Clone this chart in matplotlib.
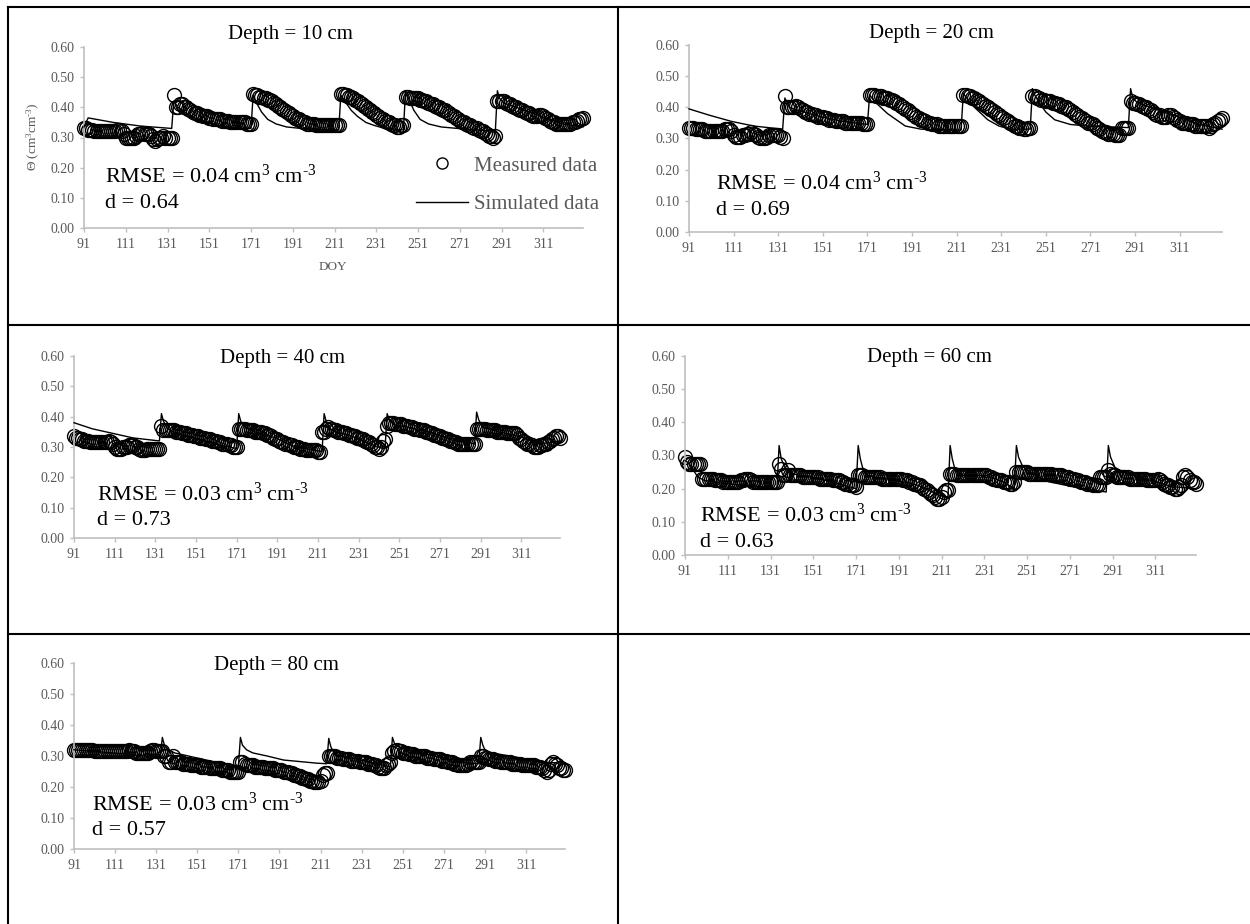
import matplotlib
matplotlib.use('Agg')
import matplotlib.pyplot as plt
from matplotlib.lines import Line2D

plt.rcParams['font.family'] = ['Liberation Serif', 'DejaVu Serif']
plt.rcParams['mathtext.fontset'] = 'custom'
plt.rcParams['mathtext.rm'] = 'Liberation Serif'
plt.rcParams['mathtext.it'] = 'Liberation Serif:italic'
plt.rcParams['mathtext.bf'] = 'Liberation Serif:bold'

# ---------------- data ----------------
doy = list(range(91, 331))
xticks = [91, 111, 131, 151, 171, 191, 211, 231, 251, 271, 291, 311]
yticks = [0.0, 0.1, 0.2, 0.3, 0.4, 0.5, 0.6]

titles = ["Depth = 10 cm", "Depth = 20 cm", "Depth = 40 cm", "Depth = 60 cm", "Depth = 80 cm"]
rmse = ["0.04", "0.04", "0.03", "0.03", "0.03"]
dval = ["0.64", "0.69", "0.73", "0.63", "0.57"]

meas10 = [
    .33, .33, .325, .325, .325, .32, .32, .32, .32, .32,
    .32, .32, .32, .32, .32, .32, .325, .325, .32, .31,
    .30, .30, .30, .30, .30, .305, .31, .31, .315, .31,
    .31, .31, .305, .295, .29, .295, .30, .30, .305, .30,
    .30, .30, .30, .44, .40, .40, .41, .41, .40, .40,
    .395, .39, .385, .38, .38, .375, .375, .37, .37, .37,
    .365, .365, .36, .36, .36, .36, .355, .355, .355, .355,
    .35, .35, .35, .35, .35, .35, .35, .35, .345, .345,
    .345, .445, .44, .44, .435, .435, .43, .43, .425, .425,
    .42, .415, .41, .405, .40, .395, .39, .385, .38, .375,
    .37, .365, .36, .36, .355, .35, .35, .345, .345, .345,
    .345, .34, .34, .34, .34, .34, .34, .34, .34, .34,
    .34, .34, .34, .445, .445, .44, .44, .435, .435, .43,
    .425, .42, .415, .41, .405, .40, .395, .39, .385, .38,
    .375, .37, .365, .36, .355, .35, .35, .345, .34, .34,
    .335, .335, .34, .34, .435, .435, .43, .43, .43, .43,
    .43, .425, .425, .42, .42, .415, .41, .41, .405, .40,
    .40, .395, .39, .39, .385, .38, .375, .37, .365, .36,
    .355, .35, .35, .345, .34, .34, .335, .33, .33, .325,
    .32, .32, .315, .31, .305, .305, .30, .305, .42, .42,
    .42, .42, .415, .41, .41, .405, .40, .40, .395, .39,
    .39, .385, .38, .38, .375, .37, .37, .37, .375, .375,
    .37, .365, .36, .355, .35, .35, .345, .345, .345, .345,
    .345, .345, .345, .345, .35, .35, .355, .36, .36, .365]

meas20 = [
    .335, .335, .335, .33, .33, .33, .33, .325, .325, .325,
    .325, .325, .325, .325, .325, .325, .33, .33, .33, .325,
    .31, .305, .305, .305, .31, .31, .315, .315, .32, .315,
    .31, .305, .30, .30, .30, .305, .31, .31, .31, .31,
    .31, .305, .30, .435, .40, .40, .40, .40, .405, .40,
    .395, .39, .385, .385, .38, .38, .375, .375, .37, .37,
    .37, .365, .365, .36, .36, .36, .355, .355, .355, .355,
    .35, .35, .35, .35, .35, .35, .35, .35, .345, .345,
    .345, .44, .44, .44, .435, .435, .435, .43, .43, .43,
    .425, .425, .42, .415, .41, .405, .40, .395, .39, .385,
    .38, .375, .37, .365, .36, .36, .355, .35, .35, .345,
    .345, .345, .34, .34, .34, .34, .34, .34, .34, .34,
    .34, .34, .34, .44, .44, .435, .435, .43, .43, .425,
    .42, .415, .41, .405, .40, .395, .39, .385, .38, .375,
    .37, .365, .36, .355, .35, .345, .34, .34, .335, .335,
    .33, .33, .335, .335, .435, .435, .43, .43, .425, .425,
    .42, .42, .42, .415, .415, .41, .41, .405, .40, .40,
    .395, .39, .385, .38, .375, .37, .365, .36, .355, .35,
    .35, .345, .34, .335, .33, .325, .32, .32, .315, .315,
    .315, .31, .31, .31, .335, .335, .335, .335, .42, .415,
    .415, .41, .41, .405, .40, .40, .395, .39, .385, .38,
    .375, .375, .37, .37, .37, .375, .375, .37, .365, .36,
    .355, .35, .35, .35, .345, .345, .345, .34, .34, .34,
    .34, .34, .34, .335, .34, .345, .35, .355, .36, .365]

meas40 = [
    .335, .33, .33, .325, .325, .32, .32, .32, .315, .315,
    .315, .315, .315, .315, .315, .315, .315, .32, .315, .31,
    .30, .295, .295, .295, .30, .30, .30, .305, .305, .305,
    .30, .30, .295, .29, .29, .29, .295, .295, .295, .295,
    .295, .295, .295, .37, .355, .355, .355, .355, .355, .355,
    .35, .35, .35, .345, .345, .345, .34, .34, .34, .335,
    .335, .335, .33, .33, .33, .325, .325, .325, .32, .32,
    .32, .315, .315, .31, .31, .31, .305, .305, .30, .30,
    .30, .36, .36, .36, .36, .355, .355, .355, .355, .35,
    .35, .35, .35, .345, .345, .34, .34, .335, .33, .325,
    .325, .32, .315, .315, .31, .31, .305, .305, .30, .30,
    .30, .295, .295, .295, .29, .29, .29, .29, .29, .29,
    .285, .285, .35, .35, .36, .365, .36, .36, .355, .355,
    .35, .35, .35, .345, .345, .34, .34, .335, .335, .33,
    .33, .325, .325, .32, .315, .315, .31, .305, .30, .30,
    .295, .30, .32, .325, .37, .38, .38, .38, .375, .375,
    .375, .375, .37, .37, .37, .365, .365, .36, .36, .36,
    .355, .355, .355, .35, .35, .345, .345, .34, .34, .335,
    .335, .33, .33, .325, .325, .32, .32, .315, .315, .31,
    .31, .31, .31, .31, .31, .31, .31, .31, .36, .36,
    .36, .36, .36, .355, .355, .355, .355, .355, .35, .35,
    .35, .35, .35, .345, .345, .345, .345, .345, .34, .33,
    .325, .32, .315, .31, .31, .305, .30, .30, .30, .305,
    .305, .31, .31, .315, .32, .325, .33, .335, .335, .33]

meas60 = [
    .295, .28, .275, .275, .275, .275, .275, .275, .23, .23,
    .23, .23, .23, .23, .225, .225, .225, .225, .22, .22,
    .22, .22, .22, .22, .22, .22, .225, .225, .23, .23,
    .23, .225, .22, .22, .22, .22, .22, .22, .22, .22,
    .22, .22, .22, .22, .275, .26, .24, .24, .255, .24,
    .24, .24, .24, .24, .24, .235, .235, .235, .235, .235,
    .235, .235, .235, .23, .23, .23, .23, .23, .23, .225,
    .225, .225, .225, .22, .22, .215, .215, .21, .21, .21,
    .205, .24, .24, .24, .235, .235, .235, .235, .235, .235,
    .235, .235, .23, .23, .23, .23, .23, .23, .23, .23,
    .23, .23, .225, .225, .225, .22, .22, .215, .215, .21,
    .21, .205, .20, .195, .19, .185, .18, .175, .17, .17,
    .175, .19, .195, .195, .245, .245, .245, .24, .24, .24,
    .24, .24, .24, .24, .24, .24, .24, .24, .24, .24,
    .24, .24, .235, .235, .23, .23, .225, .225, .225, .22,
    .22, .22, .215, .215, .22, .25, .25, .25, .25, .25,
    .25, .245, .245, .245, .245, .245, .245, .245, .245, .245,
    .245, .245, .24, .24, .24, .24, .24, .235, .235, .235,
    .23, .23, .23, .225, .225, .22, .22, .22, .215, .215,
    .215, .21, .21, .21, .235, .235, .235, .235, .255, .245,
    .24, .24, .235, .235, .235, .235, .235, .235, .23, .23,
    .23, .23, .23, .23, .23, .23, .225, .225, .225, .225,
    .225, .23, .225, .22, .215, .21, .21, .205, .205, .20,
    .20, .205, .21, .235, .24, .235, .225, .22, .22, .215]

meas80 = [
    .32, .32, .32, .32, .32, .32, .32, .32, .32, .32,
    .315, .315, .315, .315, .315, .315, .315, .315, .315, .315,
    .315, .315, .315, .315, .315, .315, .315, .32, .315, .315,
    .31, .31, .31, .31, .31, .31, .31, .315, .32, .32,
    .315, .315, .315, .315, .30, .30, .28, .28, .30, .28,
    .28, .28, .28, .275, .275, .275, .275, .27, .27, .27,
    .27, .27, .265, .265, .265, .265, .26, .26, .26, .26,
    .26, .26, .255, .255, .255, .255, .25, .25, .25, .25,
    .25, .28, .28, .275, .27, .27, .27, .27, .265, .265,
    .265, .265, .265, .26, .26, .26, .26, .26, .255, .255,
    .255, .255, .25, .25, .25, .245, .245, .24, .24, .235,
    .235, .23, .23, .225, .225, .22, .22, .215, .215, .215,
    .22, .24, .245, .245, .30, .30, .30, .30, .295, .295,
    .295, .29, .29, .29, .29, .285, .285, .285, .285, .28,
    .28, .28, .28, .275, .275, .275, .27, .27, .265, .26,
    .26, .26, .27, .275, .28, .31, .315, .32, .315, .315,
    .31, .31, .31, .305, .305, .305, .30, .30, .30, .30,
    .30, .30, .295, .295, .295, .29, .29, .29, .29, .285,
    .285, .285, .28, .28, .28, .275, .275, .27, .27, .27,
    .27, .27, .275, .28, .28, .28, .28, .28, .30, .30,
    .295, .295, .29, .29, .29, .285, .285, .285, .28, .28,
    .28, .28, .28, .275, .275, .275, .275, .275, .27, .27,
    .27, .27, .27, .27, .27, .265, .265, .265, .26, .255,
    .25, .255, .275, .28, .275, .27, .26, .26, .255, .255]

sim10_doy = [91, 93, 105, 118, 133, 134, 136, 140, 145, 150, 155, 165, 171,
             172, 174, 176, 179, 183, 188, 195, 213, 214, 216, 219, 222, 226, 230, 235, 244,
             245, 247, 249, 252, 256, 262, 270, 288, 289, 290, 292, 300, 310, 320, 330]
sim10 = [.335, .365, .35, .338, .33, .42, .40, .38, .36, .35, .34, .33, .33,
         .44, .41, .385, .36, .345, .335, .33, .325, .44, .42, .39, .37, .35, .34, .33, .325,
         .455, .42, .39, .36, .345, .335, .33, .32, .455, .43, .415, .395, .37, .345, .335]

sim20_doy = [91, 100, 110, 120, 133, 134, 136, 140, 150, 160, 171,
             172, 174, 177, 180, 184, 188, 195, 213, 214, 216, 219, 222, 225, 230, 235, 244,
             245, 246, 248, 251, 255, 262, 270, 288, 289, 290, 292, 300, 310, 320, 330]
sim20 = [.395, .375, .355, .34, .33, .43, .40, .39, .37, .355, .345,
         .44, .42, .40, .38, .36, .34, .33, .327, .445, .425, .40, .38, .36, .34, .33, .33,
         .46, .44, .415, .385, .36, .345, .34, .335, .46, .43, .415, .395, .37, .345, .33]

sim40_doy = [91, 100, 110, 120, 133, 134, 135, 137, 140, 150, 160, 171,
             172, 173, 175, 180, 190, 200, 213, 214, 215, 217, 220, 230, 240, 244,
             245, 246, 248, 255, 265, 275, 288, 289, 290, 292, 300, 310, 320, 330]
sim40 = [.38, .36, .345, .33, .32, .41, .385, .36, .35, .33, .31, .295,
         .41, .385, .365, .35, .33, .30, .285, .41, .385, .36, .35, .33, .30, .30,
         .41, .39, .375, .365, .35, .33, .31, .415, .39, .365, .35, .335, .31, .32]

sim60_doy = [91, 93, 97, 100, 110, 120, 134, 135, 136, 138, 141, 150, 160, 171,
             172, 173, 174, 176, 180, 190, 200, 205, 210, 214, 215, 216, 217, 219, 221, 232, 240, 245,
             246, 247, 249, 253, 261, 277, 288, 289, 290, 292, 294, 300, 311, 319, 330]
sim60 = [.285, .275, .235, .225, .215, .21, .20, .33, .29, .26, .245, .235, .22, .20,
         .33, .29, .265, .24, .235, .225, .21, .195, .18, .175, .33, .29, .265, .25, .24, .24, .22, .20,
         .33, .295, .266, .246, .221, .20, .19, .33, .296, .265, .256, .241, .221, .206, .20]

sim80_doy = [91, 110, 133, 134, 135, 137, 140, 150, 160, 171,
             172, 173, 175, 178, 185, 193, 209, 214, 215, 216, 218, 225, 235, 245,
             246, 247, 250, 260, 270, 280, 288, 289, 290, 291, 294, 305, 318, 330]
sim80 = [.32, .31, .295, .36, .335, .32, .31, .295, .28, .265,
         .36, .335, .32, .31, .30, .287, .277, .275, .357, .33, .303, .295, .28, .265,
         .36, .34, .325, .31, .295, .28, .275, .36, .335, .32, .31, .298, .28, .277]

measured = [meas10, meas20, meas40, meas60, meas80]
sim_x = [sim10_doy, sim20_doy, sim40_doy, sim60_doy, sim80_doy]
sim_y = [sim10, sim20, sim40, sim60, sim80]

# ---------------- layout (pixels) ----------------
W, H = 1250, 924
axes_px = [(84, 47, 583, 228), (689, 45, 1222, 232), (74, 356, 560, 538),
           (685, 356, 1196, 555), (74, 663, 565, 849)]
title_px = [(290, 39), (931, 38), (283, 363), (929, 362), (276, 670)]
stats_px = [(105, 183, 208), (716, 190, 215), (97, 501, 525), (700, 522, 547), (92, 811, 835)]

GRAY = '#595959'
AXC = '#bfbfbf'

fig = plt.figure(figsize=(W / 100, H / 100), dpi=100)


def fx(x):
    return x / W


def fy(y):
    return 1 - y / H


UNIT = r" cm$^{3}$ cm$^{\text{-}3}$"

for i in range(5):
    l, t, r, b = axes_px[i]
    ax = fig.add_axes([fx(l), fy(b), (r - l) / W, (b - t) / H])
    mh, = ax.plot(doy, measured[i], linestyle='none', marker='o', markersize=10,
                  markerfacecolor='none', markeredgecolor='black', markeredgewidth=1.0,
                  clip_on=False, zorder=2)
    sh, = ax.plot(sim_x[i], sim_y[i], color='black', linewidth=1.0, zorder=3, clip_on=False)
    ax.set_xlim(91, 330)
    ax.set_ylim(0, 0.6)
    ax.set_xticks(xticks)
    ax.set_yticks(yticks)
    ax.set_yticklabels([f"{v:.2f}" for v in yticks])
    for s in ['top', 'right']:
        ax.spines[s].set_visible(False)
    for s in ['left', 'bottom']:
        ax.spines[s].set_color(AXC)
        ax.spines[s].set_linewidth(1.2)
    ax.tick_params(axis='both', direction='out', length=3, width=1, color=AXC,
                   labelcolor=GRAY, labelsize=10, pad=4)
    ax.patch.set_alpha(0)

    tx, ty = title_px[i]
    fig.text(fx(tx), fy(ty), titles[i], ha='center', va='baseline', fontsize=15, color='black')
    sx, sy1, sy2 = stats_px[i]
    fig.text(fx(sx), fy(sy1), "RMSE = " + rmse[i] + UNIT, ha='left',
             va='baseline', fontsize=16, color='black')
    fig.text(fx(sx), fy(sy2), "d = " + dval[i], ha='left', va='baseline', fontsize=16, color='black')

    if i == 0:
        fig.text(fx(333), fy(267), "DOY", ha='center', va='center', fontsize=9.5, color=GRAY)
        fig.text(fx(33), fy(137), r"Θ (cm$^{3}$cm$^{\text{-}3}$)", ha='center', va='center',
                 rotation=90, fontsize=9.5, color=GRAY)
        ax.legend([mh, sh], ["Measured data", "Simulated data"], loc='upper left',
                  bbox_to_anchor=(fx(416), fy(156)), bbox_transform=fig.transFigure,
                  frameon=False, fontsize=15, handlelength=2.5, handletextpad=0.3,
                  labelspacing=0.9, borderpad=0, borderaxespad=0, markerscale=0.8,
                  labelcolor=GRAY)

# ---------------- table borders ----------------
borders = [((8, 7), (1250, 7)), ((8, 7), (8, 924)), ((618, 7), (618, 924)),
           ((8, 325), (1250, 325)), ((8, 634), (1250, 634))]
for (x0, y0), (x1, y1) in borders:
    fig.add_artist(Line2D([fx(x0), fx(x1)], [fy(y0), fy(y1)], transform=fig.transFigure,
                          color='black', linewidth=1.5))

fig.savefig('out.png', dpi=100)
